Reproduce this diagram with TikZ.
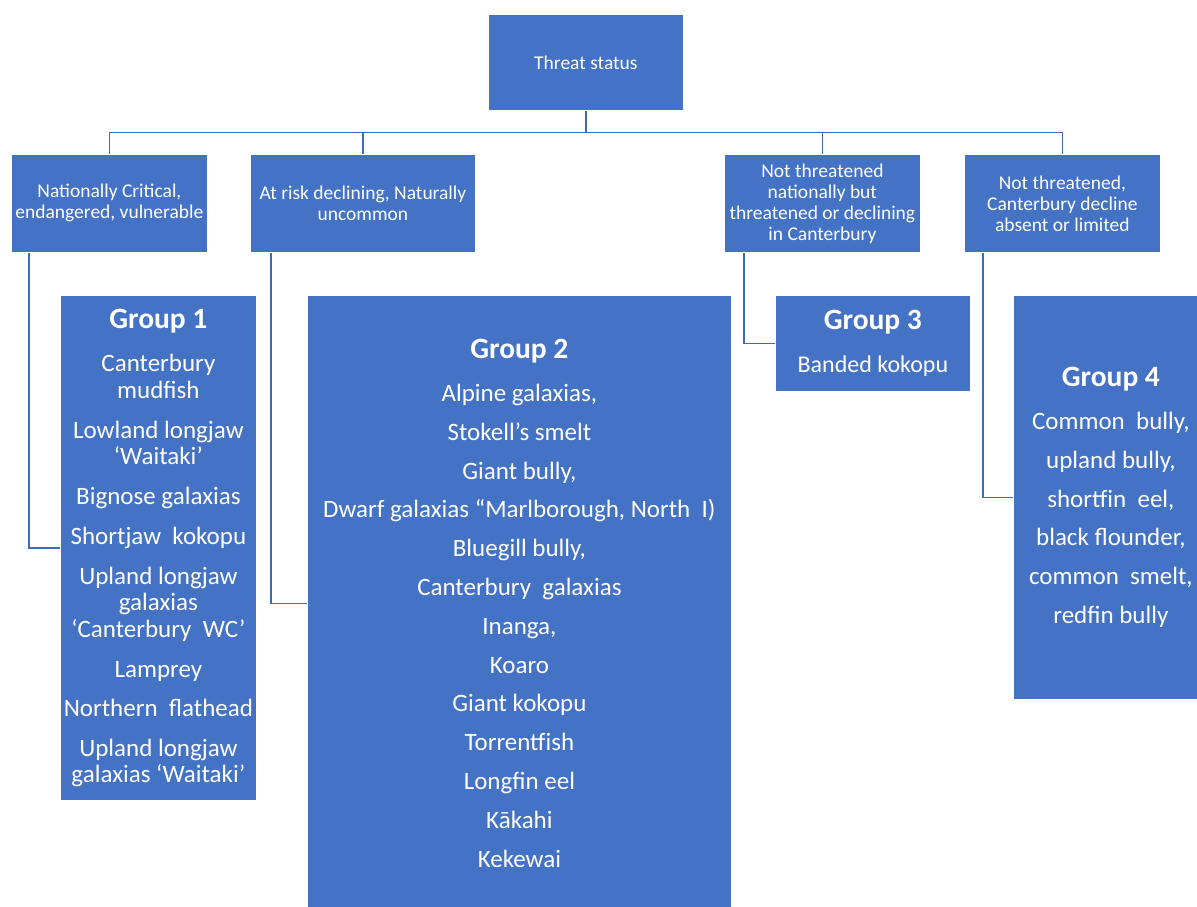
\documentclass[tikz,border=0pt]{standalone}
\usepackage{fontspec}
\setmainfont{Carlito}
\usetikzlibrary{calc}
\definecolor{boxblue}{HTML}{4472C4}
\definecolor{linkblue}{HTML}{3F69B8}

\newcommand{\grouptitle}[1]{{\fontsize{29.5}{31}\selectfont\bfseries #1}}

\begin{document}
\begin{tikzpicture}[x=1pt,y=-1pt,
  blk/.style={draw=white, line width=0.8pt, fill=boxblue, text=white,
    anchor=north west, inner sep=0pt, align=center},
  hdr/.style={blk, font=\fontsize{19.5}{21}\selectfont},
  grp/.style={blk, font=\fontsize{25}{26.5}\selectfont},
  grpwide/.style={blk, font=\fontsize{25}{38.8}\selectfont},
  link/.style={draw=linkblue, line width=1.2pt}]

\useasboundingbox (0,0) rectangle (1197,907);

% top of the hierarchy
\node[hdr, minimum width=195, minimum height=96] (top) at (488,14) {Threat status};

% threat categories
\node[hdr, minimum width=196, minimum height=98] (a) at (11,154)
  {Nationally Critical,\\endangered, vulnerable};
\node[hdr, minimum width=225, minimum height=98] (b) at (250,154)
  {At risk declining, Naturally\\uncommon};
\node[hdr, minimum width=196, minimum height=98] (c) at (724,154)
  {Not threatened\\nationally but\\threatened or declining\\in Canterbury};
\node[hdr, minimum width=196, minimum height=98] (d) at (964,154)
  {Not threatened,\\Canterbury decline\\absent or limited};

% species groups
\node[grp, minimum width=196, minimum height=505] (g1) at (60,295)
  {\grouptitle{Group 1}\\[17pt]
   Canterbury\\mudfish\\[13.5pt]
   Lowland longjaw\\‘Waitaki’\\[13.5pt]
   Bignose galaxias\\[13pt]
   Shortjaw~ kokopu\\[13.5pt]
   Upland longjaw\\galaxias\\‘Canterbury~ WC’\\[13.5pt]
   Lamprey\\[13pt]
   Northern~ flathead\\[13pt]
   Upland longjaw\\galaxias ‘Waitaki’};

\node[grpwide, minimum width=424, minimum height=616] (g2) at (307,295)
  {\grouptitle{Group 2}\\[4pt]
   Alpine galaxias,\\
   Stokell’s smelt\\
   Giant bully,\\
   Dwarf galaxias “Marlborough, North~ I)\\
   Bluegill bully,\\
   Canterbury~ galaxias\\
   Inanga,\\
   Koaro\\
   Giant kokopu\\
   Torrentfish\\
   Longfin eel\\
   Kākahi\\
   Kekewai};

\node[blk, font=\fontsize{24}{26}\selectfont, minimum width=195, minimum height=96] (g3) at (775,295)
  {\grouptitle{Group 3}\\[17pt]
   Banded kokopu};

\node[grpwide, minimum width=195, minimum height=404] (g4) at (1013,295)
  {\grouptitle{Group 4}\\[4pt]
   Common~ bully,\\
   upland bully,\\
   shortfin~ eel,\\
   black flounder,\\
   common~ smelt,\\
   redfin bully};

% hierarchy connectors
\draw[link] (top.south) -- ++(0,22) -| (a.north);
\draw[link] (top.south) -- ++(0,22) -| (b.north);
\draw[link] (top.south) -- ++(0,22) -| (c.north);
\draw[link] (top.south) -- ++(0,22) -| (d.north);

% category-to-group elbows
\draw[link] ($(a.south west)+(18,0)$) |- (g1.west);
\draw[link] ($(b.south west)+(21,0)$) |- (g2.west);
\draw[link] ($(c.south west)+(20,0)$) |- (g3.west);
\draw[link] ($(d.south west)+(19,0)$) |- (g4.west);

\end{tikzpicture}
\end{document}
